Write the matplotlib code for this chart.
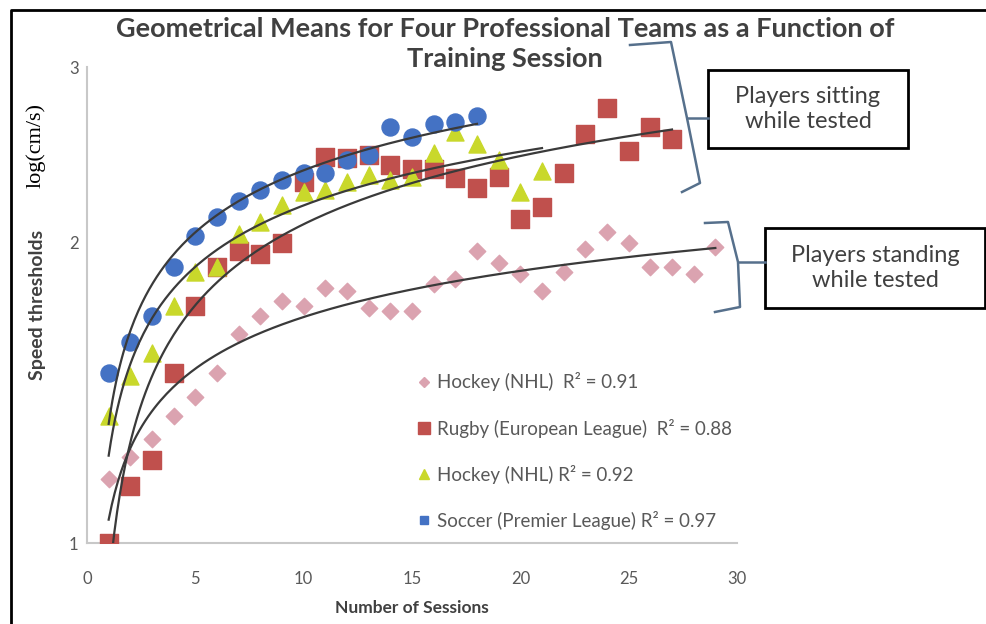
import matplotlib.pyplot as plt
import numpy as np
from matplotlib.lines import Line2D
from matplotlib.patches import Rectangle

# values (log-scaled speed thresholds)
soccer_x = list(range(1, 19))
soccer_y = [1.48, 1.59, 1.69, 1.89, 2.03, 2.12, 2.20, 2.26, 2.31, 2.35, 2.35, 2.42, 2.45, 2.61, 2.55, 2.63, 2.64, 2.68]

hockey_sit_x = list(range(1, 22))
hockey_sit_y = [1.34, 1.47, 1.55, 1.73, 1.87, 1.89, 2.04, 2.10, 2.18, 2.25, 2.26, 2.30, 2.34, 2.31, 2.33, 2.46, 2.58, 2.51, 2.42, 2.25, 2.36]

rugby_x = list(range(1, 28))
rugby_y = [1.00, 1.14, 1.21, 1.48, 1.73, 1.89, 1.96, 1.95, 2.00, 2.30, 2.44, 2.43, 2.45, 2.39, 2.37, 2.37, 2.32, 2.27, 2.33, 2.11, 2.17, 2.35, 2.57, 2.73, 2.47, 2.61, 2.54]

hockey_stand_x = list(range(1, 30))
hockey_stand_y = [1.16, 1.22, 1.27, 1.34, 1.40, 1.48, 1.62, 1.69, 1.75, 1.73, 1.80, 1.79, 1.72, 1.71, 1.71, 1.82, 1.84, 1.96, 1.91, 1.86, 1.79, 1.87, 1.97, 2.05, 2.00, 1.89, 1.89, 1.86, 1.98]

legend_labels = ['Hockey (NHL)  R\u00b2 = 0.91',
                 'Rugby (European League)  R\u00b2 = 0.88',
                 'Hockey (NHL) R\u00b2 = 0.92',
                 'Soccer (Premier League) R\u00b2 = 0.97']

W, H = 987, 624
fig = plt.figure(figsize=(W / 100, H / 100), dpi=100)
plt.rcParams['font.family'] = ['Lato', 'DejaVu Sans']

def fx(px):
    return px / W

def fy(py):
    return 1 - py / H

ax = fig.add_axes([fx(87), fy(543), 650 / W, (543 - 67) / H])

pink = '#dba3b0'
red = '#c0504d'
yellow = '#c9d82b'
blue = '#4472c4'
line_c = '#3a3a3a'

ax.scatter(hockey_stand_x, hockey_stand_y, marker='D', s=70, color=pink, zorder=2)
ax.scatter(rugby_x, rugby_y, marker='s', s=175, color=red, zorder=3)
ax.scatter(hockey_sit_x, hockey_sit_y, marker='^', s=150, color=yellow, zorder=4)
ax.scatter(soccer_x, soccer_y, marker='o', s=150, color=blue, zorder=5)

# logarithmic trend lines (Excel style: y = a ln x + b)
for xs, ys in [(hockey_stand_x, hockey_stand_y), (rugby_x, rugby_y),
               (hockey_sit_x, hockey_sit_y), (soccer_x, soccer_y)]:
    a, b = np.polyfit(np.log(xs), ys, 1)
    xx = np.linspace(xs[0], xs[-1], 200)
    ax.plot(xx, a * np.log(xx) + b, color=line_c, lw=1.6, zorder=6)

ax.set_yscale('log')
ax.set_ylim(1, 3)
ax.set_xlim(0, 30)
ax.set_yticks([1, 2, 3])
ax.set_yticklabels(['1', '2', '3'])
ax.yaxis.set_minor_locator(plt.NullLocator())
ax.set_xticks(range(0, 31, 5))
ax.tick_params(axis='both', length=0, labelsize=12, labelcolor='#595959')
ax.tick_params(axis='x', pad=20)
ax.tick_params(axis='y', pad=6)
for s in ['top', 'right']:
    ax.spines[s].set_visible(False)
for s in ['left', 'bottom']:
    ax.spines[s].set_color('#c8c8c8')
    ax.spines[s].set_linewidth(1.5)
ax.patch.set_alpha(0)

handles = [Line2D([], [], ls='', marker='D', ms=5, color=pink),
           Line2D([], [], ls='', marker='s', ms=8, color=red),
           Line2D([], [], ls='', marker='^', ms=7, color=yellow),
           Line2D([], [], ls='', marker='s', ms=6, color=blue)]
leg = ax.legend(handles, legend_labels, loc='upper left', bbox_to_anchor=(fx(407), fy(363)),
                bbox_transform=fig.transFigure, frameon=False, fontsize=13.5,
                handlelength=0.8, handletextpad=0.3, labelspacing=1.45, borderpad=0)
for t in leg.get_texts():
    t.set_color('#595959')

fig.text(fx(505), fy(17), 'Geometrical Means for Four Professional Teams as a Function of\nTraining Session',
         ha='center', va='top', fontsize=19.5, fontweight='bold', color='#404040', linespacing=1.3)
fig.text(fx(412), fy(608), 'Number of Sessions', ha='center', va='center', fontsize=12.5,
         fontweight='bold', color='#404040')
fig.text(fx(38), fy(305), 'Speed thresholds', ha='center', va='center', rotation=90,
         fontsize=14, fontweight='bold', color='#404040')
fig.text(fx(36), fy(145), 'log(cm/s)', ha='center', va='center', rotation=90,
         fontsize=16, family='Liberation Serif', color='black')

# annotation boxes
for (x0, y0, x1, y1), txt in [((708, 70, 908, 148), 'Players sitting\nwhile tested'),
                              ((765, 228, 985, 308), 'Players standing\nwhile tested')]:
    fig.add_artist(Rectangle((fx(x0), fy(y1)), fx(x1) - fx(x0), fy(y0) - fy(y1),
                             transform=fig.transFigure, fc='white', ec='black', lw=2))
    fig.text(fx((x0 + x1) / 2), fy((y0 + y1) / 2), txt, ha='center', va='center',
             fontsize=17, color='#404040', linespacing=1.25)

# curly brackets
br = '#56708c'
for pts in [[(630, 45), (671, 42), (687, 118), (700, 183), (682, 192)],
            [(687, 118), (708, 118)],
            [(705, 223), (728, 222), (738, 262), (740, 307), (715, 312)],
            [(738, 262), (765, 262)]]:
    xs_, ys_ = zip(*pts)
    fig.add_artist(Line2D([fx(p) for p in xs_], [fy(p) for p in ys_], color=br, lw=1.8))

# outer frame (left and top edges)
fig.add_artist(Line2D([fx(11), fx(11), fx(987)], [fy(624), fy(10), fy(10)], color='black', lw=2))

plt.savefig('out.png', dpi=100)
